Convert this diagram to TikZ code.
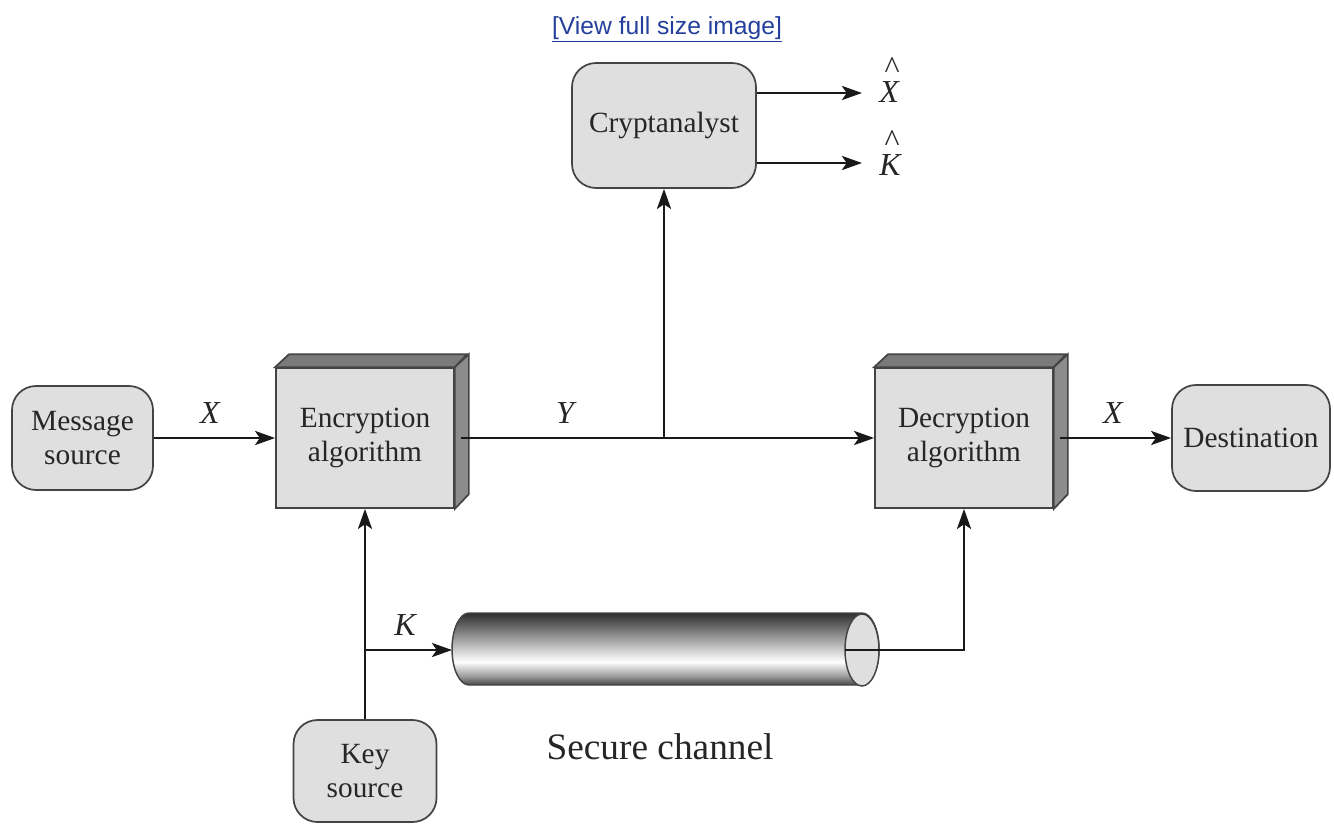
\documentclass[tikz,border=0pt]{standalone}
\usepackage{fontspec}
\setmainfont{Liberation Serif}
\newfontfamily\linkfont{Liberation Sans}
\usetikzlibrary{arrows.meta,calc}
\definecolor{boxfill}{HTML}{DFDFDF}
\definecolor{topface}{HTML}{7A7A7A}
\definecolor{sideface}{HTML}{8C8C8C}
\definecolor{edgecol}{HTML}{444444}
\definecolor{linkblue}{HTML}{24409C}
\pgfdeclareverticalshading{tube}{100bp}{color(0bp)=(black!72); color(25bp)=(black!72); color(31bp)=(black!40); color(41bp)=(white); color(49bp)=(black!18); color(62bp)=(black!50); color(75bp)=(black!82); color(100bp)=(black!82)}
\begin{document}
\begin{tikzpicture}[x=0.75pt,y=-0.75pt,
  rbox/.style={draw=edgecol, line width=1.3pt, fill=boxfill, rounded corners=18pt,
    inner sep=0pt, align=center, text=black!85,
    font=\fontsize{22}{25}\selectfont},
  cube/.style={draw=edgecol, line width=1.3pt, fill=boxfill, inner sep=0pt,
    align=center, text=black!85, font=\fontsize{22}{25.5}\selectfont,
    minimum width=133.5pt, minimum height=105pt},
  face/.style={draw=edgecol, line width=1.3pt},
  arr/.style={-{Stealth[length=15pt,width=10.5pt,inset=3.5pt]}, line width=2.2pt, black!90},
  lbl/.style={font=\fontsize{24}{28}\selectfont\itshape, text=black!85, inner sep=0pt}
]
\useasboundingbox (0,0) rectangle (1334,824);

% link
\node[font=\linkfont\fontsize{18.5}{22}\selectfont, text=linkblue, inner sep=0pt] (link) at (667,29) {\underline{[View full size image]}};

% rounded boxes
\node[rbox, minimum width=105.75pt, minimum height=78pt] (msg) at (82.5,438) {Message\\source};
\node[rbox, minimum width=138pt, minimum height=93.75pt] (crypt) at (664,125.5) {Cryptanalyst};
\node[rbox, minimum width=118.5pt, minimum height=79.5pt] (dest) at (1251,438) {Destination};
\node[rbox, minimum width=107.25pt, minimum height=76.5pt] (key) at (365,771) {Key\\source};

% 3D boxes
\node[cube] (enc) at (365,438) {Encryption\\algorithm};
\filldraw[face, fill=topface] (enc.north west) -- ++(14,-13) -- ++(178,0) -- (enc.north east) -- cycle;
\filldraw[face, fill=sideface] (enc.north east) -- ++(14,-13) -- ++(0,140) -- (enc.south east) -- cycle;

\node[cube] (dec) at (964,438) {Decryption\\algorithm};
\filldraw[face, fill=topface] (dec.north west) -- ++(14,-13) -- ++(178,0) -- (dec.north east) -- cycle;
\filldraw[face, fill=sideface] (dec.north east) -- ++(14,-13) -- ++(0,140) -- (dec.south east) -- cycle;

% secure channel tube
\coordinate (cylL) at (452,650);
\coordinate (cylR) at (862,650);
\coordinate (cylE) at (845,650);
\shade[shading=tube] (469,613) arc[start angle=90, end angle=270, x radius=12.75pt, y radius=27pt]
  -- (862,685) arc[start angle=270, end angle=450, x radius=12.75pt, y radius=27pt] -- cycle;
\draw[edgecol, line width=1.1pt] (469,613) arc[start angle=90, end angle=270, x radius=12.75pt, y radius=27pt]
  -- (862,685) arc[start angle=270, end angle=450, x radius=12.75pt, y radius=27pt] -- cycle;
\draw[edgecol, line width=1.1pt, fill=boxfill] (cylR) ellipse[x radius=12.75pt, y radius=27pt];
\node[font=\fontsize{28}{32}\selectfont, text=black!85, inner sep=0pt] (sc) at (660,747) {Secure channel};

% labels
\node[lbl] (lx1) at (210,413) {X};
\node[lbl] (ly) at (565,413) {Y};
\node[lbl] (lx2) at (1113,413) {X};
\node[lbl] (lk) at (405,625) {K};
\node[lbl, anchor=base west] (xh) at (879,103) {\rlap{\hspace{4pt}\raisebox{18pt}{\upshape\textasciicircum}}X};
\node[lbl, anchor=base west] (kh) at (879,175) {\rlap{\hspace{4pt}\raisebox{18pt}{\upshape\textasciicircum}}K};

% connectors
\coordinate (junc) at (664,438);
\coordinate (kbr) at (365,650);
\coordinate (xhend) at (862,93);
\coordinate (khend) at (862,163);
\draw[arr] (msg.east) -- (enc.west);
\draw[arr] ($(enc.east)+(6,0)$) -- (dec.west);
\draw[arr] (junc) -- (crypt.south);
\draw[arr] ($(dec.east)+(6,0)$) -- (dest.west);
\draw[arr] (key.north) -- (enc.south);
\draw[arr] (kbr) -- (cylL);
\draw[arr] (cylE) -| (dec.south);
\draw[arr] (crypt.east |- xhend) -- (xhend);
\draw[arr] (crypt.east |- khend) -- (khend);
\end{tikzpicture}
\end{document}
